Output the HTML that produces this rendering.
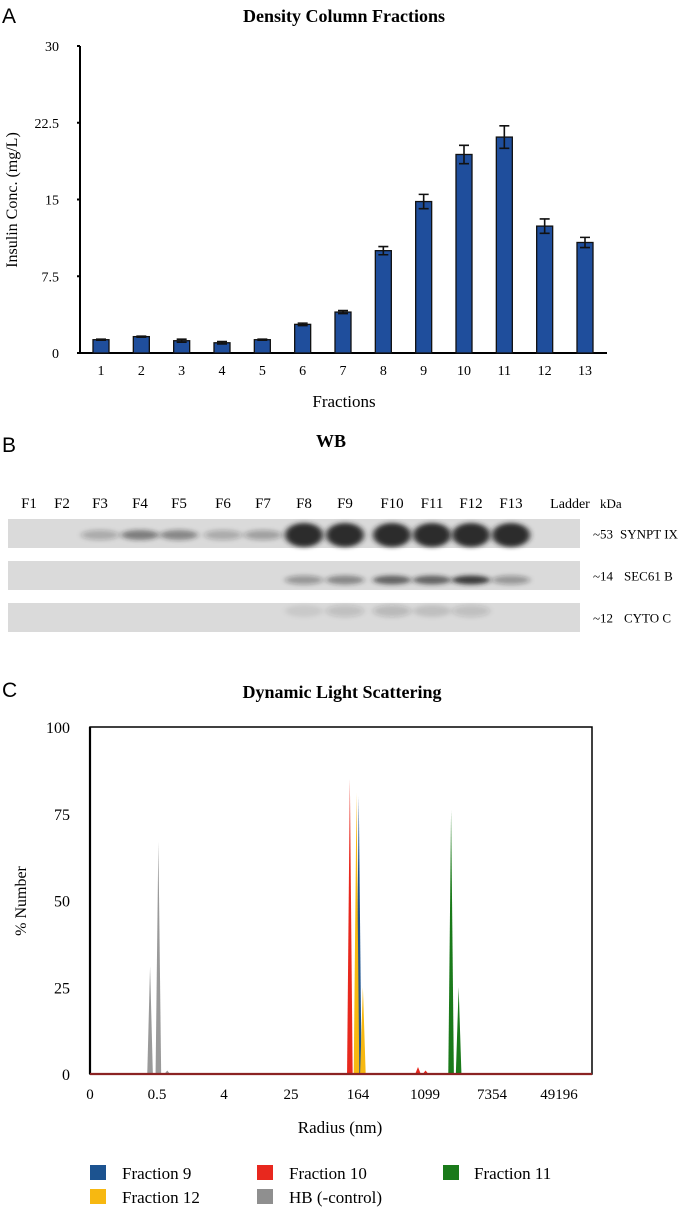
<!DOCTYPE html>
<html><head><meta charset="utf-8">
<style>
html,body{margin:0;padding:0;background:#fff;}
svg{display:block;font-family:"Liberation Serif",serif;}
.sans{font-family:"Liberation Sans",sans-serif;}
</style></head>
<body>
<svg id="fig" width="689" height="1212" viewBox="0 0 689 1212" xmlns="http://www.w3.org/2000/svg">
<defs>
<filter id="blur" x="-50%" y="-100%" width="200%" height="300%"><feGaussianBlur stdDeviation="3 2"/></filter>
</defs>
<!-- Panel A -->
<text class="sans" x="2" y="23" font-size="21">A</text>
<text x="344" y="22" font-size="18" font-weight="bold" text-anchor="middle">Density Column Fractions</text>
<g id="chartA"></g>
<text transform="translate(17,200) rotate(-90)" font-size="16" text-anchor="middle">Insulin Conc. (mg/L)</text>
<text x="344" y="407" font-size="17" text-anchor="middle">Fractions</text>

<!-- Panel B -->
<text class="sans" x="2" y="452" font-size="21">B</text>
<text x="331" y="447" font-size="18" font-weight="bold" text-anchor="middle">WB</text>
<g id="wb"></g>

<!-- Panel C -->
<text class="sans" x="2" y="697" font-size="21">C</text>
<text x="342" y="698" font-size="18" font-weight="bold" text-anchor="middle">Dynamic Light Scattering</text>
<g id="chartC"></g>
<text transform="translate(26,901) rotate(-90)" font-size="16" text-anchor="middle">% Number</text>
<text x="340" y="1133" font-size="17" text-anchor="middle">Radius (nm)</text>

<g font-size="17">
<rect x="90" y="1165" width="16" height="15" fill="#1c5390"/>
<text x="122" y="1179">Fraction 9</text>
<rect x="257" y="1165" width="16" height="15" fill="#e8281e"/>
<text x="289" y="1179">Fraction 10</text>
<rect x="443" y="1165" width="16" height="15" fill="#1a7a1a"/>
<text x="474" y="1179">Fraction 11</text>
<rect x="90" y="1189" width="16" height="15" fill="#f7b811"/>
<text x="122" y="1203">Fraction 12</text>
<rect x="257" y="1189" width="16" height="15" fill="#8f8f8f"/>
<text x="289" y="1203">HB (-control)</text>
</g>
</svg>
<script>
// ---- Chart A data ----
const fractions = ['1','2','3','4','5','6','7','8','9','10','11','12','13'];
const insulin = [1.3,1.6,1.2,1.0,1.3,2.8,4.0,10.0,14.8,19.4,21.1,12.4,10.8];
const insulinErr = [0.05,0.05,0.15,0.12,0.05,0.12,0.15,0.4,0.7,0.9,1.1,0.7,0.5];
const yTicksA = [0,7.5,15,22.5,30];
const yTickLabelsA = ['0','7.5','15','22.5','30'];

// ---- Chart C data (radius nm, % number) ----
const xTicksC = ['0','0.5','4','25','164','1099','7354','49196'];
const yTicksC = [0,25,50,75,100];
const hbR = [0.41,0.52,0.67];
const hbV = [31,67,1];
const f9R = [160];
const f9V = [80];
const f10R = [124,870,1080];
const f10V = [85,2,1];
const f12R = [150,180];
const f12V = [81,25];
const f11R = [2240,2780];
const f11V = [76,25];

const NS='http://www.w3.org/2000/svg';
function mk(tag, attrs, parent){const e=document.createElementNS(NS,tag);for(const k in attrs)e.setAttribute(k,attrs[k]);parent.appendChild(e);return e;}

// ---- Chart A ----
(function(){
  const g=document.getElementById('chartA');
  const x0=80, x1=607, yTop=46, yBot=353;
  const y=v=>yBot-(v/30)*(yBot-yTop);
  const step=(585-101)/12;
  const x=i=>101+i*step;
  const ax=mk('line',{x1:x0,y1:yTop,x2:x0,y2:yBot+1,stroke:'#000','stroke-width':2},g);
  
  
  const bx=mk('line',{x1:x0-3,y1:yBot,x2:x1,y2:yBot,stroke:'#000','stroke-width':2},g);
  
  
  yTicksA.forEach((t,i)=>{
    const tk=mk('line',{x1:x0-3,y1:y(t),x2:x0,y2:y(t),stroke:'#000','stroke-width':2},g);
    
    
    const tl=mk('text',{x:x0-21,y:y(t)+5,'font-size':14,'text-anchor':'end'},g);
    tl.textContent=yTickLabelsA[i];
    
    
  });
  fractions.forEach((f,i)=>{
    const v=insulin[i], e=insulinErr[i], cx=x(i), w=16;
    const b=mk('rect',{x:cx-w/2,y:y(v),width:w,height:yBot-y(v),fill:'#1f4e9c',stroke:'#111','stroke-width':1.3},g);
    
    
    const eb=mk('path',{d:`M${cx-5},${y(v+e)}H${cx+5}M${cx},${y(v+e)}V${y(v-e)}M${cx-5},${y(v-e)}H${cx+5}`,stroke:'#111','stroke-width':1.6,fill:'none'},g);
    
    
    const tl=mk('text',{x:cx,y:yBot+22,'font-size':14,'text-anchor':'middle'},g);
    tl.textContent=f;
    
    
  });
})();

// ---- Western blot ----
const lanes=['F1','F2','F3','F4','F5','F6','F7','F8','F9','F10','F11','F12','F13','Ladder'];
const synpt=[0,0,0.25,0.5,0.45,0.25,0.3,1,1,1,1,1,1,0];
const sec61=[0,0,0,0,0,0,0,0.35,0.45,0.65,0.65,0.85,0.35,0];
const cyto=[0,0,0,0,0,0,0,0.08,0.15,0.18,0.12,0.15,0,0];
(function(){
  const g=document.getElementById('wb');
  const lx=[29,62,100,140,179,223,263,304,345,392,432,471,511,570];
  lanes.forEach((l,i)=>{
    const t=mk('text',{x:lx[i],y:508,'font-size':i===13?14:15,'text-anchor':'middle'},g);
    t.textContent=l;
    
    
  });
  const k=mk('text',{x:600,y:508,'font-size':13},g);
  k.textContent='kDa';
  
  
  const strips=[{y:519,h:29,d:synpt,n:'synpt-ix',l1:'~53',l2:'SYNPT IX',x2:620,by:535},
                {y:561,h:29,d:sec61,n:'sec61-b',l1:'~14',l2:'SEC61 B',x2:624,by:580},
                {y:603,h:29,d:cyto,n:'cyto-c',l1:'~12',l2:'CYTO C',x2:624,by:611}];
  strips.forEach(s=>{
    const r=mk('rect',{x:8,y:s.y,width:572,height:s.h,fill:'#dadada'},g);
    
    
    s.d.forEach((v,i)=>{
      if(v<=0)return;
      const hh = s.n==='synpt-ix'? (v>0.9?12:5) : (s.n==='sec61-b'?4.5:6);
      const el=mk('ellipse',{cx:lx[i],cy:s.by,rx:19,ry:hh,fill:'#222','fill-opacity':Math.min(0.95,v),filter:'url(#blur)'},g);
      
      
    });
    const t1=mk('text',{x:593,y:s.y+s.h/2+5,'font-size':13},g);
    t1.textContent=s.l1;
    
    
    const t2=mk('text',{x:s.x2,y:s.y+s.h/2+5,'font-size':13},g);
    t2.textContent=s.l2;
    
    
  });
})();

// ---- Chart C ----
(function(){
  const g=document.getElementById('chartC');
  const L=90,R=592,T=727,B=1074, step=67, base=6.79;
  const y=v=>B-(v/100)*(B-T);
  const xr=r=>L+step*(1+Math.log(r/0.5)/Math.log(base));
  const box=mk('rect',{x:L,y:T,width:R-L,height:B-T,fill:'none',stroke:'#000','stroke-width':1.5},g);
  
  
  const ya=mk('line',{x1:L,y1:T,x2:L,y2:B,stroke:'#000','stroke-width':2.2},g);
  
  
  yTicksC.forEach(t=>{
    const tl=mk('text',{x:L-20,y:y(t)+6,'font-size':16,'text-anchor':'end'},g);
    tl.textContent=String(t);
    
    
  });
  xTicksC.forEach((t,i)=>{
    const tl=mk('text',{x:L+i*step,y:1099,'font-size':15,'text-anchor':'middle'},g);
    tl.textContent=t;
    
    
  });
  const series=[
    {n:'hb-control',r:hbR,v:hbV,c:'#9a9a9a'},
    {n:'fraction-9',r:f9R,v:f9V,c:'#1c5390'},
    {n:'fraction-10',r:f10R,v:f10V,c:'#e8281e'},
    {n:'fraction-12',r:f12R,v:f12V,c:'#f7b811'},
    {n:'fraction-11',r:f11R,v:f11V,c:'#1a7a1a'}];
  series.forEach(s=>{
    s.r.forEach((r,i)=>{
      const cx=xr(r), hw=2.8;
      const p=mk('path',{d:`M${cx-hw},${B}L${cx},${y(s.v[i])}L${cx+hw},${B}Z`,fill:s.c},g);
      
      
    });
  });
  const bl=mk('line',{x1:L,y1:B,x2:R,y2:B,stroke:'#8b2323','stroke-width':2.2},g);
  
  
})();
</script>
</body></html>
